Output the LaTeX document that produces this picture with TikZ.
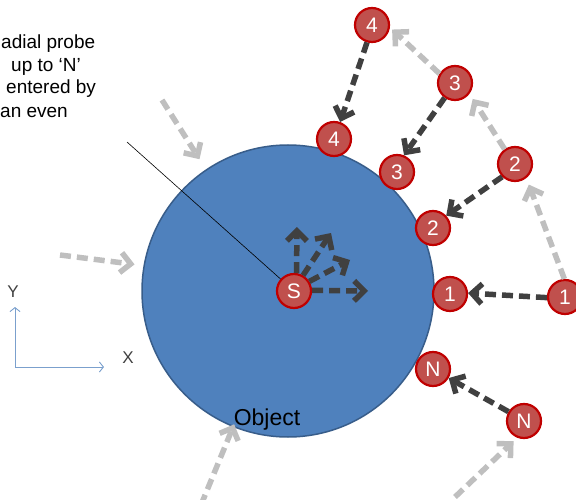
\documentclass[tikz,border=0pt]{standalone}
\usepackage{fontspec}
\setmainfont{Liberation Sans}
\usetikzlibrary{arrows.meta}
\definecolor{objblue}{HTML}{4F81BD}
\definecolor{objborder}{HTML}{385D8A}
\definecolor{pfill}{HTML}{C0504D}
\definecolor{pborder}{HTML}{C00000}
\definecolor{darkarr}{HTML}{404040}
\definecolor{lightarr}{HTML}{BFBFBF}
\definecolor{axisblue}{HTML}{7BA0CD}
\begin{document}
\begin{tikzpicture}[x=1pt,y=-1pt,
  probe/.style={circle, fill=pfill, draw=pborder, line width=2.2pt, minimum size=34pt,
    inner sep=0pt, text=white, font=\fontsize{21}{21}\selectfont},
  darr/.style={draw=darkarr, line width=5.5pt, dash pattern=on 11pt off 6pt,
    -{Straight Barb[length=10pt,width=20pt]}},
  larr/.style={draw=lightarr, line width=5.5pt, dash pattern=on 11pt off 6pt,
    -{Straight Barb[length=10pt,width=20pt]}},
  axarr/.style={draw=axisblue, line width=0.9pt, -{Straight Barb[length=4pt,width=10pt]}},
  note/.style={anchor=base west, inner sep=0pt, font=\fontsize{19}{19}\selectfont},
  axlbl/.style={text=darkarr, inner sep=0pt, font=\fontsize{17}{17}\selectfont}]
\useasboundingbox (0,0) rectangle (576,500);
\clip (0,0) rectangle (576,500);

% object
\node[circle, fill=objblue, draw=objborder, line width=1.5pt, minimum size=292pt, inner sep=0pt] (obj) at (288,291) {};
\node[anchor=base, inner sep=0pt, font=\fontsize{23}{23}\selectfont] (objlbl) at (267,425) {Object};

% note text
\node[note] (t1) at (1,49) {adial probe};
\node[note] (t2) at (11,72) {up to ‘N’};
\node[note] (t3) at (6,94) {entered by};
\node[note] (t4) at (0,118) {an even};

% leader line
\coordinate (lead) at (127,142);
\coordinate (Sc) at (294,291);
\draw[black, line width=0.6pt] (lead) -- (Sc);

% probe points
\node[probe] (S) at (294,291) {S};
\node[probe] (i1) at (450,294) {1};
\node[probe] (o1) at (565,297) {1};
\node[probe] (i2) at (433,228) {2};
\node[probe] (o2) at (515,164) {2};
\node[probe] (i3) at (397,172) {3};
\node[probe] (o3) at (455,83) {3};
\node[probe] (i4) at (334,139) {4};
\node[probe] (o4) at (372,25) {4};
\node[probe] (iN) at (433,369) {N};
\node[probe] (oN) at (524,421) {N};

% dark arrows
\draw[darr] (o4.-106) -- (i4.70);
\draw[darr] (o3.235) -- (i3.67);
\draw[darr] (o2.225) -- (i2.43);
\draw[darr] (o1.182) -- (i1.3);
\draw[darr] (oN.149) -- (iN.-30);

% S arrows
\coordinate (sU) at (297,227);
\coordinate (sA) at (331,233);
\coordinate (sB) at (350,260);
\coordinate (sE) at (368,291);
\draw[darr] (S.82) -- (sU);
\draw[darr] (S.60) -- (sA);
\draw[darr] (S.32) -- (sB);
\draw[darr] (S.2) -- (sE);

% light arrows
\draw[larr, shorten >=7pt] (o1.92) -- (o2.-51);
\draw[larr, shorten >=6pt] (o2.125) -- (o3.-37);
\draw[larr, shorten >=3pt] (o3.149) -- (o4.-8);
\coordinate (lN) at (455,497);
\draw[larr, shorten >=5pt] (lN) -- (oN.248);
\coordinate (l1) at (162,100);
\draw[larr, shorten >=12pt] (l1) -- (obj.124);
\coordinate (l2) at (60,255);
\draw[larr, shorten >=9pt] (l2) -- (obj.170);
\coordinate (l3) at (201,505);
\draw[larr, shorten >=-3pt] (l3) -- (obj.248);

% axes
\coordinate (ao) at (15,367);
\coordinate (ay) at (15,307);
\coordinate (ax) at (104,367);
\draw[axarr] (ao) -- (ay);
\draw[axarr] (ao) -- (ax);
\node[axlbl] (ylbl) at (13,292) {Y};
\node[axlbl] (xlbl) at (128,358) {X};
\end{tikzpicture}
\end{document}
